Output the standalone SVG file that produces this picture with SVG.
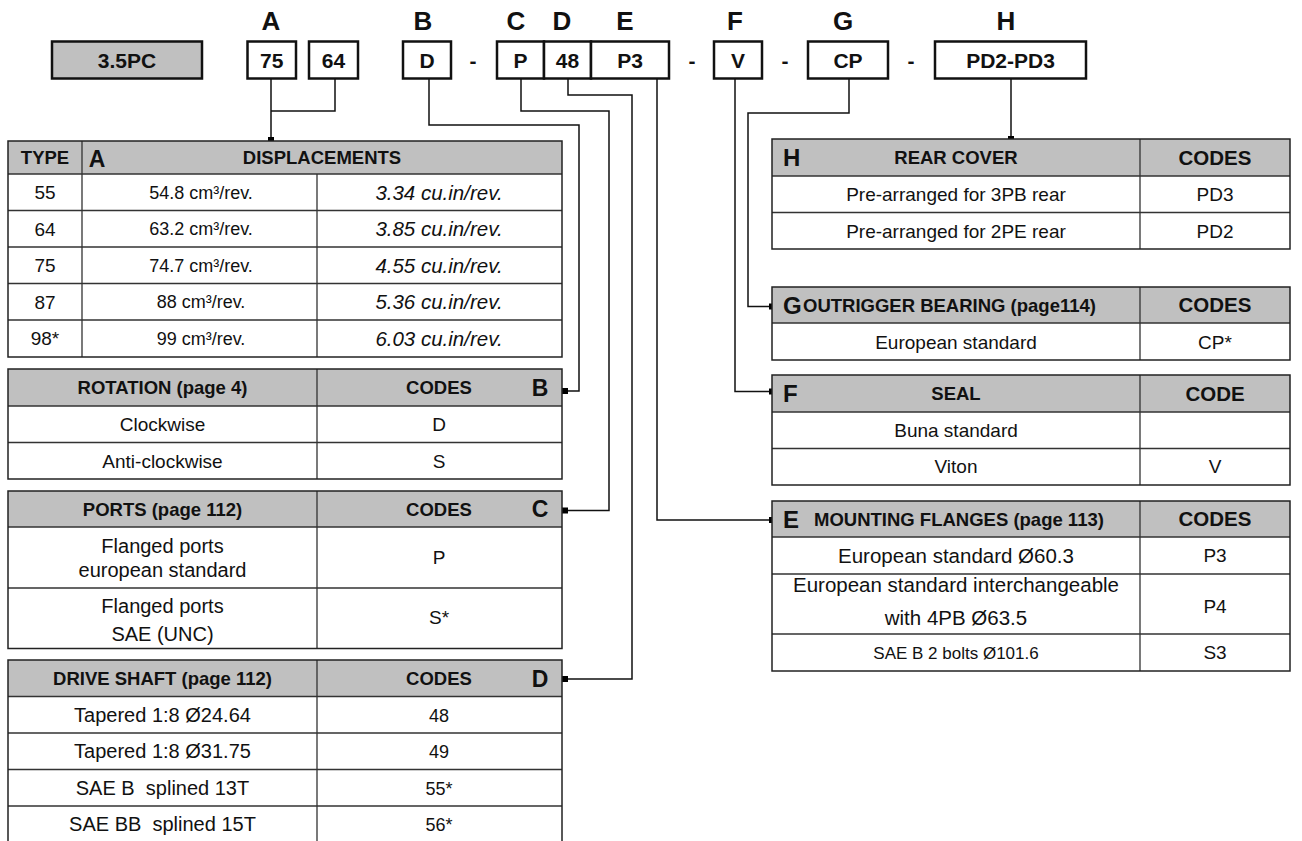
<svg xmlns="http://www.w3.org/2000/svg" width="1302" height="841" viewBox="0 0 1302 841">
<style>
text{font-family:"Liberation Sans",Arial,sans-serif;fill:#111}
.L{font-size:26px;font-weight:bold;text-anchor:middle}
.bx{font-size:21px;font-weight:bold;text-anchor:middle}
.h{font-size:18.5px;font-weight:bold;text-anchor:middle}
.hs{font-size:18.5px;font-weight:bold}
.hc{font-size:20.5px;font-weight:bold;text-anchor:middle}
.tl{font-size:23px;font-weight:bold;text-anchor:middle}
.tr{font-size:24px;font-weight:bold}
.r{font-size:19px;text-anchor:middle}
.dr{font-size:20px;text-anchor:middle}
.s{font-size:18px;text-anchor:middle}
.q{font-size:19px;text-anchor:middle}
.e{font-size:20.5px;text-anchor:middle}
.sm{font-size:17px;text-anchor:middle}
.i{font-size:20.5px;font-style:italic;text-anchor:middle}
.box{fill:#fff;stroke:#111;stroke-width:2.5}
.gbox{fill:#c0c0c0;stroke:#111;stroke-width:2.5}
.hd{fill:#c0c0c0}
.tb{fill:none;stroke:#222;stroke-width:1.5}
.ln{stroke:#333;stroke-width:1.3;fill:none}
.cn{fill:none;stroke:#111;stroke-width:1.5}
.mk{fill:#000}
</style>
<rect width="1302" height="841" fill="#fff"/>

<g id="code-row">
<text class="L" x="271" y="30">A</text>
<text class="L" x="423" y="30">B</text>
<text class="L" x="516" y="30">C</text>
<text class="L" x="562" y="30">D</text>
<text class="L" x="625" y="30">E</text>
<text class="L" x="735" y="30">F</text>
<text class="L" x="843" y="30">G</text>
<text class="L" x="1006" y="30">H</text>
<g id="box-model"><rect class="gbox" x="52" y="41.5" width="150" height="37"/><text class="bx" x="127" y="67.5">3.5PC</text></g>
<g id="box-a1"><rect class="box" x="247.5" y="41.5" width="48.5" height="37"/><text class="bx" x="271.75" y="67.5">75</text></g>
<g id="box-a2"><rect class="box" x="309" y="41.5" width="49" height="37"/><text class="bx" x="333.5" y="67.5">64</text></g>
<g id="box-b"><rect class="box" x="403" y="41.5" width="48" height="37"/><text class="bx" x="427" y="67.5">D</text></g>
<text class="bx" x="473" y="67.5">-</text>
<g id="box-c"><rect class="box" x="497" y="41.5" width="47" height="37"/><text class="bx" x="520.5" y="67.5">P</text></g>
<g id="box-d"><rect class="box" x="544" y="41.5" width="47" height="37"/><text class="bx" x="567.5" y="67.5">48</text></g>
<g id="box-e"><rect class="box" x="591" y="41.5" width="78" height="37"/><text class="bx" x="630" y="67.5">P3</text></g>
<text class="bx" x="692" y="67.5">-</text>
<g id="box-f"><rect class="box" x="714" y="41.5" width="48" height="37"/><text class="bx" x="738" y="67.5">V</text></g>
<text class="bx" x="785" y="67.5">-</text>
<g id="box-g"><rect class="box" x="808" y="41.5" width="80" height="37"/><text class="bx" x="848" y="67.5">CP</text></g>
<text class="bx" x="911" y="67.5">-</text>
<g id="box-h"><rect class="box" x="935" y="41.5" width="151" height="37"/><text class="bx" x="1010.5" y="67.5">PD2-PD3</text></g>
</g>

<g id="connectors">
<path class="cn" d="M271 79V140M335 79V111H271"/>
<path class="cn" d="M429 79V125H579V391H565"/>
<path class="cn" d="M521 79V111H609V510.5H565"/>
<path class="cn" d="M568 79V95H632V679H565"/>
<path class="cn" d="M657 79V520H772"/>
<path class="cn" d="M735 79V391.5H772"/>
<path class="cn" d="M849 79V113H748V306.5H772"/>
<path class="cn" d="M1011 79V139"/>
<rect class="mk" x="268" y="137" width="6" height="6"/>
<rect class="mk" x="562" y="388" width="6" height="6"/>
<rect class="mk" x="562" y="507.5" width="6" height="6"/>
<rect class="mk" x="562" y="676" width="6" height="6"/>
<rect class="mk" x="769" y="517" width="6" height="6"/>
<rect class="mk" x="769" y="388.5" width="6" height="6"/>
<rect class="mk" x="769" y="303.5" width="6" height="6"/>
<rect class="mk" x="1008" y="136" width="6" height="6"/>
</g>

<g id="table-a">
<rect class="hd" x="8" y="141" width="554" height="33"/>
<path class="ln" d="M8 174H562M8 210.5H562M8 247H562M8 283.5H562M8 320H562M82 141V357M317 174V357"/>
<rect class="tb" x="8" y="141" width="554" height="216"/>
<text class="h" x="45" y="164">TYPE</text>
<text class="tl" x="97" y="166.5">A</text>
<text class="h" x="322" y="164">DISPLACEMENTS</text>
<text class="r" x="45" y="199">55</text><text class="s" x="201" y="198.5">54.8 cm³/rev.</text><text class="i" x="439" y="199.5">3.34 cu.in/rev.</text>
<text class="r" x="45" y="235.5">64</text><text class="s" x="201" y="235">63.2 cm³/rev.</text><text class="i" x="439" y="236">3.85 cu.in/rev.</text>
<text class="r" x="45" y="272">75</text><text class="s" x="201" y="271.5">74.7 cm³/rev.</text><text class="i" x="439" y="272.5">4.55 cu.in/rev.</text>
<text class="r" x="45" y="308.5">87</text><text class="s" x="201" y="308">88 cm³/rev.</text><text class="i" x="439" y="309">5.36 cu.in/rev.</text>
<text class="r" x="45" y="345">98*</text><text class="s" x="201" y="344.5">99 cm³/rev.</text><text class="i" x="439" y="345.5">6.03 cu.in/rev.</text>
</g>

<g id="table-b">
<rect class="hd" x="8" y="369" width="554" height="37"/>
<path class="ln" d="M8 406H562M8 442.5H562M317 369V479"/>
<rect class="tb" x="8" y="369" width="554" height="110"/>
<text class="h" x="162.5" y="394">ROTATION (page 4)</text>
<text class="h" x="439" y="394">CODES</text>
<text class="tl" x="540" y="396">B</text>
<text class="r" x="162.5" y="431">Clockwise</text><text class="r" x="439" y="431">D</text>
<text class="r" x="162.5" y="467.5">Anti-clockwise</text><text class="r" x="439" y="467.5">S</text>
</g>

<g id="table-c">
<rect class="hd" x="8" y="491" width="554" height="36"/>
<path class="ln" d="M8 527H562M8 588H562M317 491V648.5"/>
<rect class="tb" x="8" y="491" width="554" height="157.5"/>
<text class="h" x="162.5" y="515.5">PORTS (page 112)</text>
<text class="h" x="439" y="515.5">CODES</text>
<text class="tl" x="540" y="517">C</text>
<text class="dr" x="162.5" y="553">Flanged ports</text><text class="dr" x="162.5" y="577">european standard</text><text class="r" x="439" y="564">P</text>
<text class="dr" x="162.5" y="613">Flanged ports</text><text class="dr" x="162.5" y="641">SAE (UNC)</text><text class="r" x="439" y="624">S*</text>
</g>

<g id="table-d">
<rect class="hd" x="8" y="660" width="554" height="36.5"/>
<path class="ln" d="M8 696.5H562M8 733H562M8 769.5H562M8 806H562M317 660V843"/>
<rect class="tb" x="8" y="660" width="554" height="183"/>
<text class="h" x="162.5" y="684.5">DRIVE SHAFT (page 112)</text>
<text class="h" x="439" y="684.5">CODES</text>
<text class="tl" x="540" y="686.5">D</text>
<text class="dr" x="162.5" y="721.5">Tapered 1:8 Ø24.64</text><text class="s" x="439" y="721.5">48</text>
<text class="dr" x="162.5" y="758">Tapered 1:8 Ø31.75</text><text class="s" x="439" y="758">49</text>
<text class="dr" x="162.5" y="794.5" xml:space="preserve">SAE B  splined 13T</text><text class="s" x="439" y="794.5">55*</text>
<text class="dr" x="162.5" y="831" xml:space="preserve">SAE BB  splined 15T</text><text class="s" x="439" y="831">56*</text>
</g>

<g id="table-h">
<rect class="hd" x="772" y="139" width="518" height="37"/>
<path class="ln" d="M772 176H1290M772 212.5H1290M1140 139V249"/>
<rect class="tb" x="772" y="139" width="518" height="110"/>
<text class="tr" x="783" y="166">H</text>
<text class="h" x="956" y="164">REAR COVER</text>
<text class="hc" x="1215" y="165">CODES</text>
<text class="q" x="956" y="201">Pre-arranged for 3PB rear</text><text class="q" x="1215" y="201">PD3</text>
<text class="q" x="956" y="237.5">Pre-arranged for 2PE rear</text><text class="q" x="1215" y="237.5">PD2</text>
</g>

<g id="table-g">
<rect class="hd" x="772" y="287" width="518" height="36"/>
<path class="ln" d="M772 323H1290M1140 287V360"/>
<rect class="tb" x="772" y="287" width="518" height="73"/>
<text class="tr" x="783" y="313.5">G</text>
<text class="hs" x="803" y="311.5">OUTRIGGER BEARING (page114)</text>
<text class="hc" x="1215" y="312.3">CODES</text>
<text class="q" x="956" y="348.5">European standard</text><text class="q" x="1215" y="348.5">CP*</text>
</g>

<g id="table-f">
<rect class="hd" x="772" y="375" width="518" height="37"/>
<path class="ln" d="M772 412H1290M772 448.5H1290M1140 375V485"/>
<rect class="tb" x="772" y="375" width="518" height="110"/>
<text class="tr" x="783" y="402">F</text>
<text class="h" x="956" y="400">SEAL</text>
<text class="hc" x="1215" y="400.8">CODE</text>
<text class="q" x="956" y="437">Buna standard</text>
<text class="q" x="956" y="473.4">Viton</text><text class="q" x="1215" y="473.4">V</text>
</g>

<g id="table-e">
<rect class="hd" x="772" y="501" width="518" height="36"/>
<path class="ln" d="M772 537H1290M772 574H1290M772 634H1290M1140 501V671"/>
<rect class="tb" x="772" y="501" width="518" height="170"/>
<text class="tr" x="783" y="527.6">E</text>
<text class="hs" x="814" y="525.6">MOUNTING FLANGES (page 113)</text>
<text class="hc" x="1215" y="526.3">CODES</text>
<text class="e" x="956" y="562.8">European standard Ø60.3</text><text class="q" x="1215" y="562.3">P3</text>
<text class="e" x="956" y="592.3">European standard interchangeable</text><text class="e" x="956" y="625.3">with 4PB Ø63.5</text><text class="q" x="1215" y="612.8">P4</text>
<text class="sm" x="956" y="658.5">SAE B 2 bolts Ø101.6</text><text class="q" x="1215" y="659">S3</text>
</g>
</svg>
